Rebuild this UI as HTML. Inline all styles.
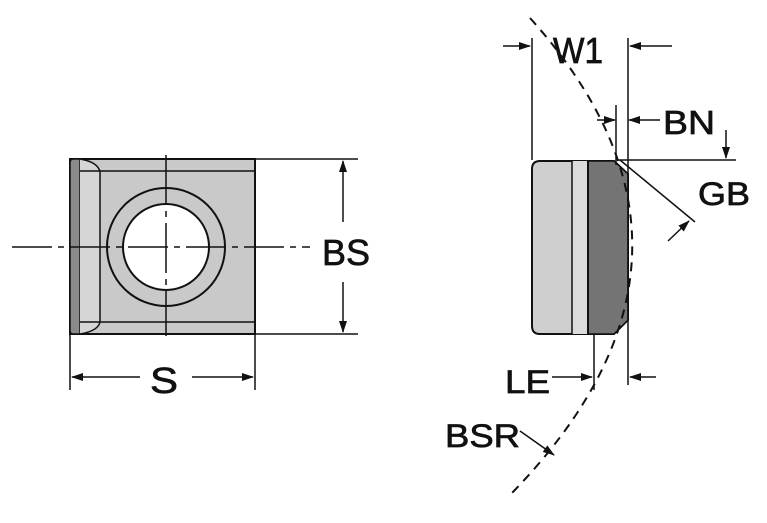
<!DOCTYPE html>
<html><head><style>
html,body{margin:0;padding:0;background:#fff;}
svg{display:block;}
text{font-family:"Liberation Sans",sans-serif;fill:#111;stroke:#111;stroke-width:0.7;}
</style></head><body>
<svg width="767" height="523" viewBox="0 0 767 523">
<defs>
<marker id="a" markerWidth="12" markerHeight="8" refX="11" refY="4" orient="auto" markerUnits="userSpaceOnUse">
<path d="M0,0 L12,4 L0,8 Z" fill="#111"/></marker>
</defs>
<!-- Left insert -->
<rect x="70" y="159" width="185" height="175" fill="#c9c9c9" stroke="#111" stroke-width="2"/>
<path d="M73,159 L80,159 L80,334 L73,334 Q70,334 70,330 L70,163 Q70,159 73,159Z" fill="#8a8a8a" stroke="#111" stroke-width="1.5"/>
<path d="M80,159 Q98,162 100,172 L100,322 Q98,331 80,334" fill="#d6d6d6" stroke="#111" stroke-width="1.5"/>
<line x1="80" y1="171" x2="255" y2="171" stroke="#111" stroke-width="1.5"/>
<line x1="80" y1="322" x2="255" y2="322" stroke="#111" stroke-width="1.5"/>
<circle cx="166" cy="247" r="59" fill="#c9c9c9" stroke="#111" stroke-width="2"/>
<circle cx="166" cy="247" r="43" fill="#fff" stroke="#111" stroke-width="2"/>
<line x1="12" y1="247" x2="310" y2="247" stroke="#111" stroke-width="1.5" stroke-dasharray="40,6,6,6"/>
<line x1="166" y1="155" x2="166" y2="336" stroke="#111" stroke-width="1.5" stroke-dasharray="50,6,6,6"/>
<line x1="255" y1="159" x2="358" y2="159" stroke="#111" stroke-width="1.5"/>
<line x1="255" y1="334" x2="358" y2="334" stroke="#111" stroke-width="1.5"/>
<line x1="343" y1="222" x2="343" y2="161" stroke="#111" stroke-width="1.5" marker-end="url(#a)"/>
<line x1="343" y1="282" x2="343" y2="332" stroke="#111" stroke-width="1.5" marker-end="url(#a)"/>
<text x="322" y="265" font-size="36" textLength="48" lengthAdjust="spacingAndGlyphs">BS</text>
<line x1="70" y1="334" x2="70" y2="390" stroke="#111" stroke-width="1.5"/>
<line x1="255" y1="334" x2="255" y2="390" stroke="#111" stroke-width="1.5"/>
<line x1="140" y1="377" x2="72" y2="377" stroke="#111" stroke-width="1.5" marker-end="url(#a)"/>
<line x1="192" y1="377" x2="253" y2="377" stroke="#111" stroke-width="1.5" marker-end="url(#a)"/>
<text x="150" y="393" font-size="36" textLength="28" lengthAdjust="spacingAndGlyphs">S</text>
<!-- Right insert -->
<path d="M540,161 L614,161 L628,174 L628,320 L614,334 L540,334 Q532,334 532,326 L532,169 Q532,161 540,161Z" fill="#cfcfcf" stroke="#111" stroke-width="2"/>
<rect x="572" y="161" width="16" height="173" fill="#dcdcdc"/>
<path d="M588,161 L614,161 L628,174 L628,320 L614,334 L588,334Z" fill="#747474" stroke="#111" stroke-width="1.5"/>
<line x1="572" y1="161" x2="572" y2="334" stroke="#111" stroke-width="1.5"/>
<line x1="588" y1="161" x2="588" y2="334" stroke="#111" stroke-width="2"/>
<path d="M530,18 Q744,256 510,495" fill="none" stroke="#111" stroke-width="2" stroke-dasharray="9,7"/>
<!-- W1 -->
<line x1="532" y1="38" x2="532" y2="160" stroke="#111" stroke-width="1.5"/>
<line x1="628" y1="38" x2="628" y2="385" stroke="#111" stroke-width="1.5"/>
<line x1="503" y1="46" x2="530" y2="46" stroke="#111" stroke-width="1.5" marker-end="url(#a)"/>
<line x1="672" y1="46" x2="630" y2="46" stroke="#111" stroke-width="1.5" marker-end="url(#a)"/>
<text x="553" y="63" font-size="36" textLength="50" lengthAdjust="spacingAndGlyphs">W1</text>
<!-- BN -->
<line x1="616" y1="105" x2="616" y2="165" stroke="#111" stroke-width="1.5"/>
<line x1="597" y1="120" x2="615" y2="120" stroke="#111" stroke-width="1.5" marker-end="url(#a)"/>
<line x1="660" y1="120" x2="629" y2="120" stroke="#111" stroke-width="1.5" marker-end="url(#a)"/>
<text x="663" y="134" font-size="33" textLength="52" lengthAdjust="spacingAndGlyphs">BN</text>
<!-- GB -->
<line x1="618" y1="160" x2="736" y2="160" stroke="#111" stroke-width="1.5"/>
<line x1="726" y1="130" x2="726" y2="158" stroke="#111" stroke-width="1.5" marker-end="url(#a)"/>
<line x1="620" y1="160" x2="695" y2="222" stroke="#111" stroke-width="1.5"/>
<line x1="668" y1="241" x2="689" y2="221" stroke="#111" stroke-width="1.5" marker-end="url(#a)"/>
<text x="698" y="205" font-size="32" textLength="52" lengthAdjust="spacingAndGlyphs">GB</text>
<!-- LE -->
<line x1="594" y1="334" x2="594" y2="390" stroke="#111" stroke-width="1.5"/>
<line x1="552" y1="377" x2="592" y2="377" stroke="#111" stroke-width="1.5" marker-end="url(#a)"/>
<line x1="656" y1="377" x2="630" y2="377" stroke="#111" stroke-width="1.5" marker-end="url(#a)"/>
<text x="505" y="393" font-size="32" textLength="45" lengthAdjust="spacingAndGlyphs">LE</text>
<!-- BSR -->
<text x="445" y="447" font-size="32" textLength="75" lengthAdjust="spacingAndGlyphs">BSR</text>
<line x1="520" y1="431" x2="554" y2="455" stroke="#111" stroke-width="1.5" marker-end="url(#a)"/>
</svg>
</body></html>
